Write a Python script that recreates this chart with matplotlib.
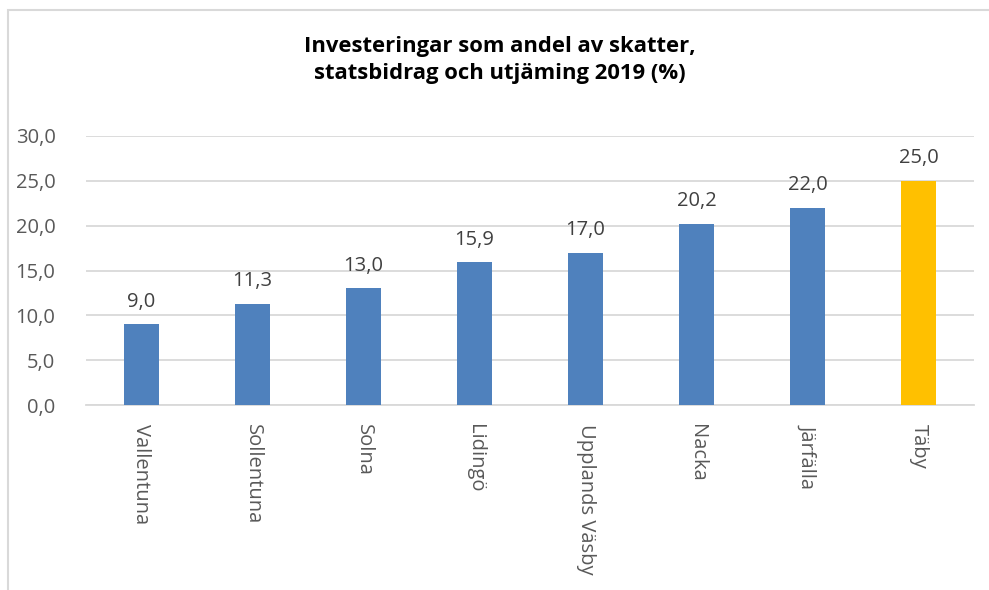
import matplotlib
matplotlib.use("Agg")
import matplotlib.pyplot as plt
from matplotlib.patches import Rectangle

categories = ["Vallentuna", "Sollentuna", "Solna", "Lidingö", "Upplands Väsby", "Nacka", "Järfälla", "Täby"]
values = [9.0, 11.3, 13.0, 15.9, 17.0, 20.2, 22.0, 25.0]
yticks = [0, 5, 10, 15, 20, 25, 30]
title = "Investeringar som andel av skatter,\nstatsbidrag och utjäming 2019 (%)"

plt.rcParams['font.family'] = ['Open Sans', 'DejaVu Sans']

W, H = 989, 590
fig = plt.figure(figsize=(W/100, H/100), dpi=100)

# outer frame
fig.patches.append(Rectangle((8/W, -0.1), 1.2, (H-10)/H + 0.1, transform=fig.transFigure,
                             fill=False, edgecolor="#D9D9D9", linewidth=1.5))

left, right, top, bottom = 86, 974, 136, 405
ax = fig.add_axes([left/W, (H-bottom)/H, (right-left)/W, (bottom-top)/H])

colors = ["#4F81BD"] * 7 + ["#FFC000"]
x = range(len(categories))
ax.bar(x, values, width=0.315, color=colors, zorder=3)
ax.set_xlim(-0.5, len(categories) - 0.5)
ax.set_ylim(0, 30)
ax.set_yticks(yticks)
ax.set_yticklabels([f"{v:.1f}".replace(".", ",") for v in yticks], fontsize=14.5, color="#595959")
ax.set_xticks(list(x))
ax.set_xticklabels(categories, rotation=-90, fontsize=14.5, color="#595959", va="top", ha="center")
ax.tick_params(axis="both", length=0)
ax.tick_params(axis="y", pad=22)
ax.tick_params(axis="x", pad=14)
ax.grid(axis="y", color="#D9D9D9", linewidth=1.3, zorder=0)
for s in ["top", "right", "left"]:
    ax.spines[s].set_visible(False)
ax.spines["bottom"].set_color("#D9D9D9")
ax.spines["bottom"].set_linewidth(1.3)

for xi, v in zip(x, values):
    ax.annotate(f"{v:.1f}".replace(".", ","), (xi, v), xytext=(0, 9), textcoords="offset points",
                ha="center", va="bottom", fontsize=14.5, color="#404040")

fig.text(500/W, 1 - 60/H, title, ha="center", va="center", fontsize=15.8, fontweight="bold",
         color="#000000", linespacing=1.35)

fig.savefig("out.png", dpi=100)
